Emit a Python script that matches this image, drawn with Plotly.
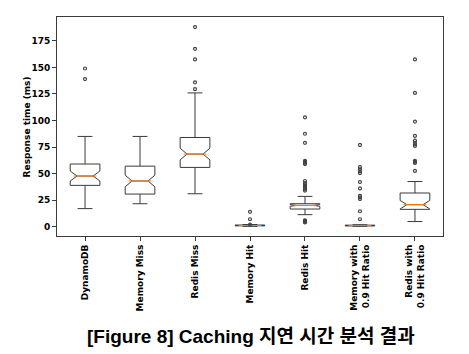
import plotly.graph_objects as go

categories = ["DynamoDB", "Memory Miss", "Redis Miss", "Memory Hit", "Redis Hit",
              "Memory with<br>0.9 Hit Ratio", "Redis with<br>0.9 Hit Ratio"]
positions = list(range(len(categories)))

q1 = [38.9, 30.7, 55.8, 0.8, 16.6, 0.8, 16.3]
median = [47.7, 43.0, 68.4, 1.1, 20.0, 1.0, 20.7]
q3 = [59.0, 57.0, 84.0, 1.5, 21.6, 1.4, 31.7]
lower_whisker = [17.0, 21.6, 31.0, 0.3, 11.3, 0.3, 4.8]
upper_whisker = [85.0, 85.0, 126.0, 2.0, 28.5, 1.8, 42.5]
notch_half = [4.7, 5.5, 5.5, 0.1, 0.8, 0.1, 4.0]

outliers = [
    [139, 149],
    [],
    [129.5, 136, 157.5, 167.5, 188],
    [2.0, 7, 14],
    [4, 4.5, 5, 5.5, 6, 34, 35, 36, 37, 38, 39, 40, 41, 43, 59, 60, 61, 62, 79, 87.5, 103],
    [7, 14.5, 26, 27.5, 29, 36, 42, 50.5, 52, 54, 56, 77],
    [52.5, 60, 61, 62, 76, 77.5, 79, 81, 85.5, 99, 126, 157.5],
]

yticks = [0, 25, 50, 75, 100, 125, 150, 175]

BOX_W = 0.54
NOTCH_W = 0.23
EDGE = "#3a3a3a"

fig = go.Figure()
fig.add_trace(go.Box(
    x=positions, q1=q1, median=median, q3=q3,
    lowerfence=lower_whisker, upperfence=upper_whisker,
    notched=True, notchspan=notch_half, notchwidth=NOTCH_W,
    width=BOX_W, whiskerwidth=0.5, boxpoints=False,
    line=dict(color=EDGE, width=1), fillcolor="rgba(0,0,0,0)",
    showlegend=False, hoverinfo="skip",
))

# orange median lines (matplotlib style)
mx, my = [], []
for p, m in zip(positions, median):
    hw = BOX_W / 2 * (1 - NOTCH_W)
    mx += [p - hw, p + hw, None]
    my += [m, m, None]
fig.add_trace(go.Scatter(x=mx, y=my, mode="lines",
                         line=dict(color="#ff7f0e", width=1),
                         showlegend=False, hoverinfo="skip"))

ox, oy = [], []
for p, vals in zip(positions, outliers):
    ox += [p] * len(vals)
    oy += vals
fig.add_trace(go.Scatter(x=ox, y=oy, mode="markers",
                         marker=dict(symbol="circle-open", size=3,
                                     color="#444444", line=dict(width=1.2)),
                         showlegend=False, hoverinfo="skip"))

tick_font = dict(family="DejaVu Sans", size=9, color="black", weight="bold")

fig.update_layout(
    width=469, height=354,
    margin=dict(l=57, r=26, t=17, b=118),
    paper_bgcolor="white", plot_bgcolor="white",
    xaxis=dict(range=[-0.51, 6.51], tickvals=positions, ticktext=categories,
               tickangle=-90, tickfont=tick_font, ticks="outside", ticklen=4,
               tickcolor=EDGE, showline=True, mirror=True, linecolor=EDGE,
               linewidth=1, showgrid=False, zeroline=False),
    yaxis=dict(range=[-8.8, 197.5], tickvals=yticks, tickfont=tick_font,
               ticks="outside", ticklen=4, tickcolor=EDGE, showline=True,
               mirror=True, linecolor=EDGE, linewidth=1, showgrid=False,
               zeroline=False),
    annotations=[
        dict(text="Response time (ms)", xref="paper", yref="paper",
             x=-0.078, y=0.5, xanchor="center", yanchor="middle",
             textangle=-90, showarrow=False, font=tick_font),
        dict(text="[Figure 8] Caching 지연 시간 분석 결과",
             xref="paper", yref="paper", x=0.503, y=-0.461,
             xanchor="center", yanchor="middle", showarrow=False,
             font=dict(family="Liberation Sans, Noto Sans CJK KR", size=19,
                       color="black", weight="bold")),
    ],
)

fig.write_html("out.html")
